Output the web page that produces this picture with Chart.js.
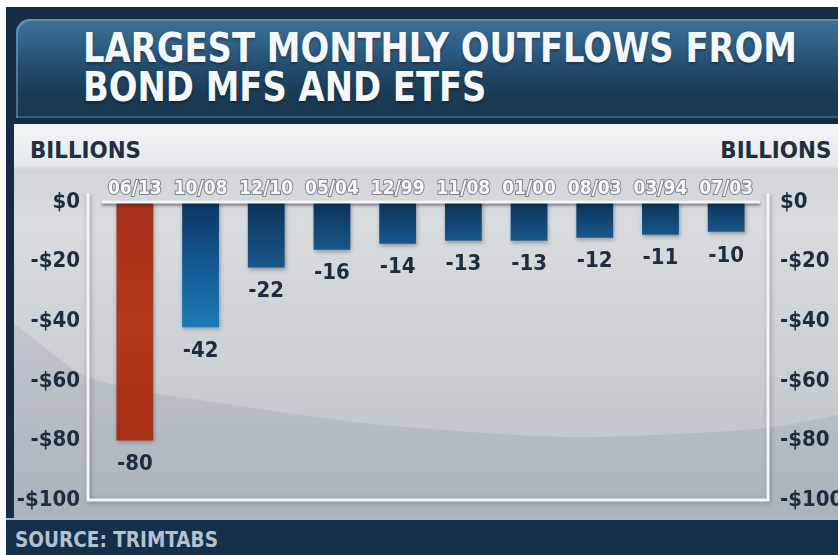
<!DOCTYPE html>
<html>
<head>
<meta charset="utf-8">
<script src="https://cdn.jsdelivr.net/npm/chart.js@4/dist/chart.umd.min.js"></script>
<style>
  html, body { margin: 0; padding: 0; background: #fff; width: 838px; height: 555px; overflow: hidden; }
  #frame { position: absolute; left: 6px; top: 7px; width: 832px; height: 548px; background: #142d45; }
  #titlePanel {
    position: absolute; left: 16px; top: 19px; width: 830px; height: 99px;
    border-radius: 14px 0 0 0;
    background: linear-gradient(180deg, #3b7097 0%, #2e5f84 28%, #21496a 52%, #1b3c56 75%, #19374f 100%);
    box-shadow: inset 2px 2px 0 rgba(140,185,215,0.45), inset 0 -2px 0 rgba(110,160,200,0.35);
  }
  #panel {
    position: absolute; left: 14px; top: 124px; width: 824px; height: 396px; overflow: hidden;
    background: linear-gradient(180deg, #f2f4f5 0%, #e6e9eb 10.5%, #d2d6da 11.5%, #d8dcdf 25%, #cdd2d6 55%, #c1c7cc 80%, #b7bec4 100%);
  }
  #sheen { position: absolute; left: 0; top: 0; }
  #foot { position: absolute; left: 6px; top: 518px; width: 832px; height: 37px; background: #15304a; border-top: 2px solid #9cbcd2; }
  .t { position: absolute; white-space: nowrap; font-weight: bold; line-height: 1;
       font-family: "DejaVu Sans Condensed", "Liberation Sans Narrow", "DejaVu Sans", sans-serif; transform-origin: 0 0; }
  #title1, #title2 { left: 83px; font-size: 40px; color: #f5f7f9; text-shadow: 0 2px 3px rgba(0,0,0,0.35); }
  #title1 { top: 28px; }
  #title2 { top: 67px; }
  .units { font-size: 23px; color: #1f2f3f; top: 139px; }
  #unitsL { left: 30px; }
  #unitsR { right: 7px; transform-origin: 100% 0; }
  #source { left: 15px; top: 530px; font-size: 21px; color: #b3c2ce; }
  #chart { position: absolute; left: 0; top: 0; z-index: 5; }
</style>
</head>
<body>
<div id="frame"></div>
<div id="titlePanel"></div>
<div id="panel">
  <svg id="sheen" width="824" height="396" viewBox="0 0 824 396">
    <path d="M0,200 C30,222 60,248 74,254 C120,266 150,272 186,276 C280,290 340,300 406,304 C480,310 540,314 586,313 C660,311 710,308 754,304 C780,300 800,296 824,291 L824,396 L0,396 Z"
          fill="rgba(70,82,95,0.10)"/>
  </svg>
</div>
<div id="foot"></div>
<div class="t" id="title1">LARGEST MONTHLY OUTFLOWS FROM</div>
<div class="t" id="title2">BOND MFS AND ETFS</div>
<div class="t units" id="unitsL">BILLIONS</div>
<div class="t units" id="unitsR">BILLIONS</div>
<div class="t" id="source">SOURCE: TRIMTABS</div>
<canvas id="chart" width="838" height="555"></canvas>

<script>
// Largest monthly outflows from bond mutual funds and ETFs, in billions of dollars
const categories = ['06/13', '10/08', '12/10', '05/04', '12/99', '11/08', '01/00', '08/03', '03/94', '07/03'];
const outflows = [-80, -42, -22, -16, -14, -13, -13, -12, -11, -10];
const yTickValues = [0, -20, -40, -60, -80, -100];
const yTickLabels = ['$0', '-$20', '-$40', '-$60', '-$80', '-$100'];

const FONT = '"DejaVu Sans Condensed", "Liberation Sans Narrow", "DejaVu Sans", sans-serif';
const INK = '#1d2d3e';

// squeeze the headline so it spans the banner the way the broadcast type does
(function fitTitle() {
  const t1 = document.getElementById('title1');
  const t2 = document.getElementById('title2');
  const s = 714 / t1.getBoundingClientRect().width;
  t1.style.transform = t2.style.transform = 'scaleX(' + s + ')';
  ['unitsL', 'unitsR'].forEach(id => {
    const el = document.getElementById(id);
    el.style.transform = 'scaleX(' + (111 / el.getBoundingClientRect().width) + ')';
  });
  const src = document.getElementById('source');
  src.style.transform = 'scaleX(' + (203 / src.getBoundingClientRect().width) + ')';
})();

// bar fill: latest month in red, the 2008 crisis month in bright blue, the rest navy
function barFill(ctx) {
  const chart = ctx.chart;
  const y = chart.scales.y;
  if (!chart.chartArea || !y) return '#123f6a';
  const v = ctx.raw;
  const y0 = y.getPixelForValue(0);
  const y1 = y.getPixelForValue(v);
  const g = chart.ctx.createLinearGradient(0, y0, 0, y1);
  if (ctx.dataIndex === 0) {
    g.addColorStop(0, '#a52f18');
    g.addColorStop(0.5, '#b3381c');
    g.addColorStop(1, '#a62f17');
  } else if (ctx.dataIndex === 1) {
    g.addColorStop(0, '#0c3660');
    g.addColorStop(0.45, '#125690');
    g.addColorStop(1, '#1b7bb3');
  } else {
    g.addColorStop(0, '#0b3359');
    g.addColorStop(1, '#19578a');
  }
  return g;
}

const yAxisBase = (position, width, padding) => ({
  type: 'linear',
  position,
  min: -100,
  max: 0,
  grid: { display: false, drawTicks: false },
  border: { display: false },
  afterBuildTicks: scale => { scale.ticks = yTickValues.map(v => ({ value: v })); },
  afterFit: scale => { scale.width = width; },
  ticks: {
    padding,
    color: INK,
    font: { family: FONT, size: 22, weight: 'bold' },
    callback: v => yTickLabels[yTickValues.indexOf(v)]
  }
});

const plotFrame = {
  id: 'plotFrame',
  beforeDatasetsDraw(chart) {
    const { ctx, chartArea: a } = chart;
    const L = a.left - 14, R = a.right + 9, T = a.top - 9, B = a.bottom;
    ctx.save();
    ctx.shadowColor = 'rgba(50,60,72,0.45)';
    ctx.shadowBlur = 4;
    ctx.shadowOffsetX = 1;
    ctx.shadowOffsetY = 1;
    ctx.strokeStyle = '#f3f5f6';
    ctx.lineWidth = 3;
    ctx.beginPath();
    ctx.moveTo(L, T); ctx.lineTo(L, B); ctx.lineTo(R, B); ctx.lineTo(R, T);
    ctx.stroke();
    ctx.restore();
  },
  beforeDatasetDraw(chart) {
    const ctx = chart.ctx;
    ctx.save();
    ctx.shadowColor = 'rgba(20,30,45,0.35)';
    ctx.shadowBlur = 4;
    ctx.shadowOffsetX = 1;
    ctx.shadowOffsetY = 2;
  },
  afterDatasetDraw(chart) {
    chart.ctx.restore();
  },
  afterDatasetsDraw(chart) {
    const { ctx, chartArea: a, scales } = chart;
    // zero baseline across the top of the bars
    const yz = scales.y.getPixelForValue(0);
    ctx.save();
    ctx.shadowColor = 'rgba(20,30,40,0.55)';
    ctx.shadowBlur = 3;
    ctx.shadowOffsetY = 2;
    ctx.strokeStyle = '#f4f6f7';
    ctx.lineWidth = 3;
    ctx.beginPath();
    ctx.moveTo(a.left, yz);
    ctx.lineTo(a.right + 1, yz);
    ctx.stroke();
    ctx.restore();

    // value under each bar
    const meta = chart.getDatasetMeta(0);
    const data = chart.data.datasets[0].data;
    ctx.save();
    ctx.font = 'bold 22px ' + FONT;
    ctx.fillStyle = INK;
    ctx.textAlign = 'center';
    ctx.textBaseline = 'middle';
    meta.data.forEach((bar, i) => {
      ctx.fillText(String(data[i]), bar.x, bar.y + 24);
    });
    ctx.restore();
  }
};

new Chart(document.getElementById('chart'), {
  type: 'bar',
  data: {
    labels: categories,
    datasets: [{
      data: outflows,
      yAxisID: 'y',
      backgroundColor: barFill,
      borderWidth: 0,
      barPercentage: 0.56,
      categoryPercentage: 1
    }]
  },
  options: {
    responsive: false,
    animation: false,
    devicePixelRatio: 1,
    layout: { padding: { top: 162, bottom: 55, left: 0, right: 0 } },
    plugins: { legend: { display: false }, tooltip: { enabled: false }, title: { display: false } },
    scales: {
      x: {
        position: 'top',
        grid: { display: false, drawTicks: false },
        border: { display: false },
        afterFit: scale => { scale.height = 40; },
        ticks: {
          padding: 2,
          color: '#f6f8f9',
          textStrokeColor: 'rgba(55,65,78,0.55)',
          textStrokeWidth: 2,
          maxRotation: 0,
          autoSkip: false,
          font: { family: FONT, size: 19, weight: 'bold' }
        }
      },
      y: yAxisBase('left', 102, 22),
      y2: yAxisBase('right', 79, 21)
    }
  },
  plugins: [plotFrame]
});
</script>
</body>
</html>
